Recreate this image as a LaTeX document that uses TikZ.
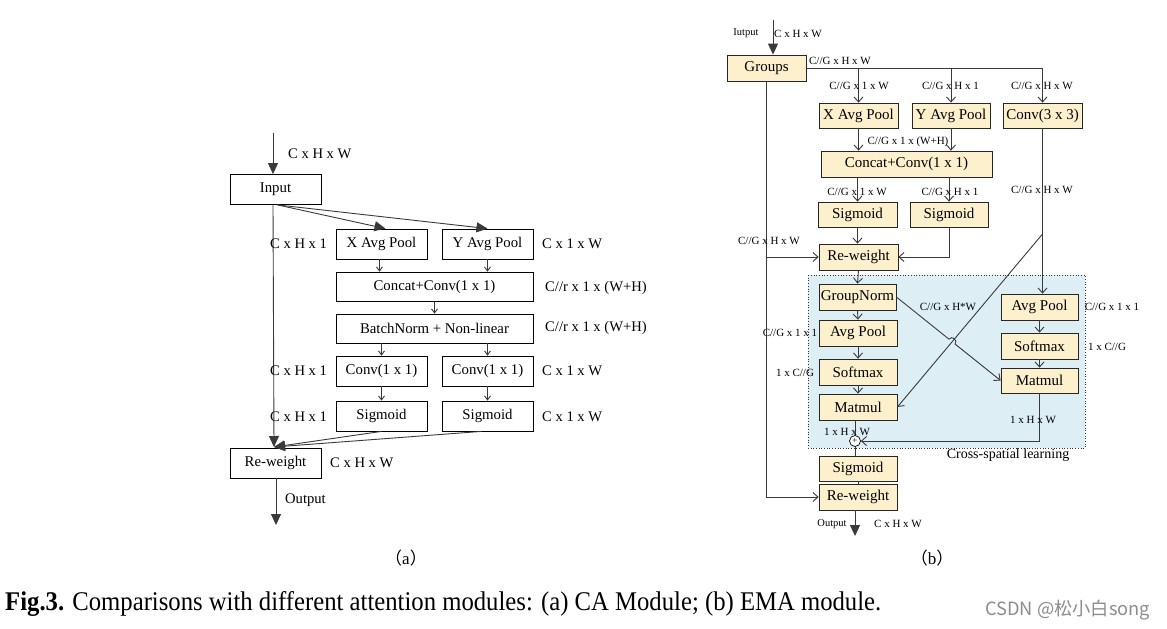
\documentclass[tikz,border=0pt]{standalone}
\usepackage{fontspec}
\usepackage{graphicx}
\setmainfont{Liberation Serif}
\newfontfamily\cjk{Noto Sans CJK SC}
\usetikzlibrary{arrows.meta}
\definecolor{boxfill}{HTML}{FDF0CC}
\definecolor{bluefill}{HTML}{DDEEF5}
\definecolor{linegray}{HTML}{3A3A3A}
\begin{document}
\begin{tikzpicture}[x=1pt,y=-1pt,
  line/.style={draw=linegray,line width=0.9pt},
  big/.style={line,-{Triangle[length=11pt,width=10pt]}},
  sarr/.style={line,-{Straight Barb[length=4pt,width=6pt]}},
  barr/.style={line,-{Straight Barb[length=5pt,width=9pt]}},
  abox/.style={draw=black,line width=0.8pt,inner sep=0pt,font=\fontsize{14.8}{16}\selectfont,minimum width=91pt,minimum height=30pt},
  bbox/.style={draw=black!85,fill=boxfill,line width=0.8pt,inner sep=0pt,font=\fontsize{15}{16}\selectfont,minimum width=78pt,minimum height=26pt},
  alab/.style={inner sep=0pt,anchor=west,font=\fontsize{14.6}{16}\selectfont},
  blab/.style={inner sep=0pt,font=\fontsize{11}{12}\selectfont},
]
\useasboundingbox[fill=white] (0,0) rectangle (1167,629);

% ---------------- (a) CA module ----------------
\node[abox] (inp) at (275.5,189.5) {Input};
\node[abox] (xp) at (381.5,244) {X Avg Pool};
\node[abox] (yp) at (487.5,244) {Y Avg Pool};
\node[abox,minimum width=197pt,minimum height=29pt] (cc) at (434.5,286.5) {Concat+Conv(1 x 1)};
\node[abox,minimum width=197pt,minimum height=29pt] (bn) at (434.5,328.5) {BatchNorm + Non-linear};
\node[abox] (c1) at (381.5,371) {Conv(1 x 1)};
\node[abox] (c2) at (487.5,371) {Conv(1 x 1)};
\node[abox] (s1) at (381.5,416) {Sigmoid};
\node[abox] (s2) at (487.5,416) {Sigmoid};
\node[abox] (rw) at (275.5,463) {Re-weight};

\coordinate (ain) at (273,133);
\coordinate (rwin) at (274,447);
\coordinate (aout) at (276,525);
\draw[big] (ain) -- (ain |- inp.north);
\draw[big] (ain |- inp.south) -- (rwin);
\draw[big] ([xshift=2pt]inp.south) -- ([xshift=4pt]xp.north);
\draw[big] ([xshift=2pt]inp.south) -- (yp.north);
\draw[sarr] ([xshift=-2pt]xp.south) -- ([xshift=-2pt]xp.south |- cc.north);
\draw[sarr] (yp.south) -- (yp.south |- cc.north);
\draw[sarr] (cc.south) -- (bn.north);
\draw[sarr] (c1.north |- bn.south) -- (c1.north);
\draw[sarr] (c2.north |- bn.south) -- (c2.north);
\draw[sarr] (c1.south) -- (s1.north);
\draw[sarr] (c2.south) -- (s2.north);
\draw[big] (s1.south) -- (rwin);
\draw[big] ([xshift=-6pt]s2.south) -- (rwin);
\draw[big] (rw.south -| aout) -- (aout);

\node[alab] (la1) at (288,154) {C x H x W};
\node[alab] (la2) at (270,244) {C x H x 1};
\node[alab] (la3) at (542,244) {C x 1 x W};
\node[alab] (la4) at (545,288) {C//r x 1 x (W+H)};
\node[alab] (la5) at (545,328) {C//r x 1 x (W+H)};
\node[alab] (la6) at (270,371) {C x H x 1};
\node[alab] (la7) at (542,371) {C x 1 x W};
\node[alab] (la8) at (270,417) {C x H x 1};
\node[alab] (la9) at (542,417) {C x 1 x W};
\node[alab] (la10) at (330,463) {C x H x W};
\node[alab] (la11) at (285,500) {Output};
\node[inner sep=0pt,font=\fontsize{17}{18}\selectfont] (capa) at (406,558) {\cjk （\normalfont a\cjk ）};

% ---------------- (b) EMA module ----------------
\fill[bluefill] (808,275) rectangle (1085,448);
\draw[black!80,line width=0.7pt,dotted] (808,275) rectangle (1085,448);

\node[bbox,minimum width=79pt] (grp) at (766.5,68) {Groups};
\node[bbox,minimum width=79pt,minimum height=25pt] (xpb) at (858.5,115.5) {X Avg Pool};
\node[bbox,minimum height=25pt] (ypb) at (951,115.5) {Y Avg Pool};
\node[bbox,minimum width=79pt,minimum height=25pt] (c33) at (1042.5,115.5) {Conv(3 x 3)};
\node[bbox,minimum width=171pt] (ccb) at (906.5,164) {Concat+Conv(1 x 1)};
\node[bbox,minimum width=79pt,minimum height=25pt] (sgl) at (857.5,214.5) {Sigmoid};
\node[bbox,minimum height=25pt] (sgr) at (949,214.5) {Sigmoid};
\node[bbox,minimum width=79pt] (rwb) at (858.5,257) {Re-weight};
\node[bbox,minimum width=77pt] (gn) at (857.5,297) {GroupNorm};
\node[bbox] (apl) at (858,333) {Avg Pool};
\node[bbox] (sml) at (858,372) {Softmax};
\node[bbox] (mml) at (858,407) {Matmul};
\node[bbox,minimum height=25pt] (sgf) at (858,468.5) {Sigmoid};
\node[bbox] (rwf) at (858,497) {Re-weight};
\node[bbox,minimum width=77pt] (apr) at (1039.5,307) {Avg Pool};
\node[bbox,minimum width=77pt] (smr) at (1039.5,346) {Softmax};
\node[bbox,minimum width=77pt,minimum height=25pt] (mmr) at (1039.5,380.5) {Matmul};
\node[circle,draw=black,fill=white,line width=0.7pt,inner sep=0pt,minimum size=11pt,font=\fontsize{9}{9}\selectfont] (plus) at (855,441) {+};

\coordinate (bin) at (773,20);
\coordinate (bout) at (855,536);
\coordinate (dgs) at (1042.5,234);
\draw[big] (bin) -- (bin |- grp.north);
\draw[line] (grp.east) -- (c33.north |- grp.east);
\draw[barr] (c33.north |- grp.east) -- (c33.north);
\draw[barr] (xpb.north |- grp.east) -- (xpb.north);
\draw[barr] (ypb.north |- grp.east) -- (ypb.north);
\draw[barr] (xpb.south) -- (xpb.south |- ccb.north);
\draw[barr] (ypb.south) -- (ypb.south |- ccb.north);
\draw[barr] (sgl.north |- ccb.south) -- (sgl.north);
\draw[barr] (sgr.north |- ccb.south) -- (sgr.north);
\draw[barr] (sgl.south) -- (sgl.south |- rwb.north);
\draw[barr] (sgr.south) -- (sgr.south |- rwb.east) -- (rwb.east);
\draw[barr] (grp.south) -- (grp.south |- rwf.west) -- (rwf.west);
\draw[barr] (grp.south |- rwb.west) -- (rwb.west);
\draw[barr] (rwb.south) -- (gn.north);
\draw[barr] (gn.south) -- (apl.north);
\draw[barr] (apl.south) -- (sml.north);
\draw[barr] (sml.south) -- (mml.north);
\draw[line] (plus.north |- mml.south) -- (plus.north);
\draw[line] (plus.south) -- (plus.south |- sgf.north);
\draw[line] (sgf.south) -- (rwf.north);
\draw[big] (rwf.south -| bout) -- (bout);
\draw[barr] (c33.south) -- (c33.south |- apr.north);
\draw[barr] (apr.south) -- (smr.north);
\draw[barr] (smr.south) -- (mmr.north);
\draw[barr] (mmr.south) -- (mmr.south |- plus) -- (plus.east);
\draw[barr] (dgs) -- (mml.east);
\draw[barr] (gn.east) -- (948.9,339.1) .. controls (952.0,335.2) and (958.2,340.2) .. (955.1,344.1) -- (mmr.west);

\node[blab,font=\fontsize{10.5}{12}\selectfont] (lb0) at (746,33) {Iutput};
\node[blab] (lb1) at (798,34) {C x H x W};
\node[blab] (lb2) at (840,61) {C//G x H x W};
\node[blab] (lb3) at (859,86) {C//G x 1 x W};
\node[blab] (lb4) at (950.5,86) {C//G x H x 1};
\node[blab] (lb5) at (1042,86) {C//G x H x W};
\node[blab] (lb6) at (908,142) {C//G x 1 x (W+H)};
\node[blab] (lb7) at (857,192) {C//G x 1 x W};
\node[blab] (lb8) at (950,192) {C//G x H x 1};
\node[blab] (lb9) at (1042,190) {C//G x H x W};
\node[blab] (lb10) at (769,241) {C//G x H x W};
\node[blab] (lb11) at (948,307) {C//G x H*W};
\node[blab] (lb12) at (790,333) {C//G x 1 x 1};
\node[blab] (lb13) at (795,373) {1 x C//G};
\node[blab] (lb14) at (847,432) {1 x H x W};
\node[blab] (lb15) at (1033,420) {1 x H x W};
\node[blab] (lb16) at (1112,307) {C//G x 1 x 1};
\node[blab] (lb17) at (1107,347) {1 x C//G};
\node[inner sep=0pt,font=\fontsize{14}{15}\selectfont] (lb18) at (1008,455) {Cross-spatial learning};
\node[blab,font=\fontsize{10.5}{12}\selectfont] (lb19) at (832,524) {Output};
\node[blab] (lb20) at (898,524) {C x H x W};
\node[inner sep=0pt,font=\fontsize{17}{18}\selectfont] (capb) at (932,558) {\cjk （\normalfont b\cjk ）};

% ---------------- caption ----------------
\node[anchor=west,inner sep=0pt] (cap) at (5,604) {\resizebox{876pt}{\height}{\fontsize{27}{30}\selectfont\textbf{Fig.3.} Comparisons with different attention modules: (a) CA Module; (b) EMA module.}};
\node[anchor=west,inner sep=0pt,text=black!45] (wm) at (985,610) {\resizebox{165pt}{!}{\cjk\fontsize{16}{18}\selectfont CSDN @松小白song}};
\end{tikzpicture}
\end{document}
